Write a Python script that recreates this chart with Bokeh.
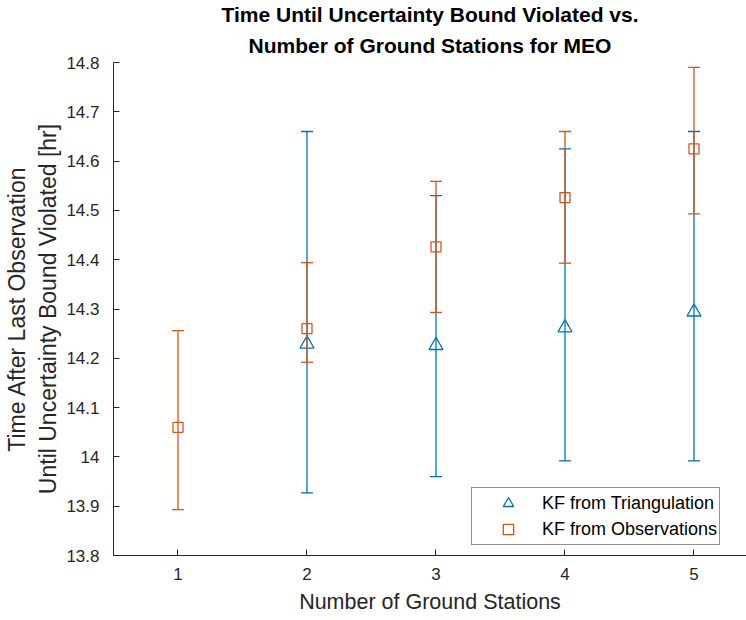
from bokeh.plotting import figure
from bokeh.models import (Range1d, FixedTicker, CustomJSTickFormatter, Title,
                          Legend, LegendItem, ColumnDataSource)
from bokeh.embed import file_html
from bokeh.resources import INLINE

# ---- data ----
tri_x = [2, 3, 4, 5]
tri_mean = [14.229, 14.226, 14.262, 14.294]
tri_lower = [13.927, 13.960, 13.992, 13.992]
tri_upper = [14.660, 14.530, 14.625, 14.660]

obs_x = [1, 2, 3, 4, 5]
obs_mean = [14.060, 14.260, 14.426, 14.526, 14.625]
obs_lower = [13.893, 14.192, 14.293, 14.393, 14.493]
obs_upper = [14.256, 14.394, 14.559, 14.660, 14.790]

x_ticks = [1, 2, 3, 4, 5]
y_ticks = [13.8, 13.9, 14.0, 14.1, 14.2, 14.3, 14.4, 14.5, 14.6, 14.7, 14.8]

title_lines = ["Time Until Uncertainty Bound Violated vs.",
               "Number of Ground Stations for MEO"]
x_label = "Number of Ground Stations"
y_label = "Time After Last Observation\nUntil Uncertainty Bound Violated [hr]"
series_names = ["KF from Triangulation", "KF from Observations"]

BLUE = "#0072BD"
ORANGE = "#D95319"
AXIS = "#262626"
FONT = "Liberation Sans"

p = figure(width=746, height=620, output_backend="svg", toolbar_location=None,
           x_range=Range1d(0.5, 5.407), y_range=Range1d(13.8, 14.8),
           min_border_left=113, min_border_right=0, min_border_top=62,
           min_border_bottom=65, title=None)
p.outline_line_color = None
p.xgrid.visible = False
p.ygrid.visible = False
p.background_fill_color = "white"
p.border_fill_color = "white"

# titles (two lines)
t2 = Title(text=title_lines[1], align="center", text_font=FONT,
           text_font_size="21px", text_font_style="bold", text_color="black",
           standoff=12)
t1 = Title(text=title_lines[0], align="center", text_font=FONT,
           text_font_size="21px", text_font_style="bold", text_color="black",
           standoff=-1)
p.add_layout(t2, "above")
p.add_layout(t1, "above")

# axes
for ax in (p.xaxis[0], p.yaxis[0]):
    ax.axis_line_color = AXIS
    ax.major_tick_line_color = AXIS
    ax.major_tick_in = 6
    ax.major_tick_out = 0
    ax.minor_tick_line_color = None
    ax.major_label_text_font = FONT
    ax.major_label_text_font_size = "17px"
    ax.major_label_text_color = AXIS
    ax.axis_label_text_font = FONT
    ax.axis_label_text_font_style = "normal"
    ax.axis_label_text_color = AXIS

p.xaxis.axis_label_text_font_size = "21.5px"
p.yaxis.axis_label_text_font_size = "23px"
p.xaxis.ticker = FixedTicker(ticks=x_ticks)
p.yaxis.ticker = FixedTicker(ticks=y_ticks)
p.yaxis.formatter = CustomJSTickFormatter(code="return Number(tick.toFixed(1)).toString();")
p.xaxis.axis_label = x_label
p.yaxis.axis_label = y_label
p.xaxis.major_label_standoff = 12
p.xaxis.axis_label_standoff = 7
p.yaxis.major_label_standoff = 14
p.yaxis.axis_label_standoff = 2

src_t = ColumnDataSource(dict(x=tri_x, m=tri_mean, lo=tri_lower, hi=tri_upper))
src_o = ColumnDataSource(dict(x=obs_x, m=obs_mean, lo=obs_lower, hi=obs_upper))

lw = 1.3
cap = 12
# triangulation series
p.segment(x0="x", y0="lo", x1="x", y1="hi", source=src_t, line_color=BLUE, line_width=lw)
p.scatter(x="x", y="lo", source=src_t, marker="dash", size=cap, line_color=BLUE, line_width=lw)
p.scatter(x="x", y="hi", source=src_t, marker="dash", size=cap, line_color=BLUE, line_width=lw)
r_t = p.scatter(x="x", y="m", source=src_t, marker="triangle", size=14,
                line_color=BLUE, fill_color=None, line_width=lw)

# observations series
p.segment(x0="x", y0="lo", x1="x", y1="hi", source=src_o, line_color=ORANGE, line_width=lw)
p.scatter(x="x", y="lo", source=src_o, marker="dash", size=cap, line_color=ORANGE, line_width=lw)
p.scatter(x="x", y="hi", source=src_o, marker="dash", size=cap, line_color=ORANGE, line_width=lw)
r_o = p.scatter(x="x", y="m", source=src_o, marker="square", size=10,
                line_color=ORANGE, fill_color=None, line_width=lw)

legend = Legend(items=[LegendItem(label=series_names[0], renderers=[r_t]),
                       LegendItem(label=series_names[1], renderers=[r_o])],
                location=(358, 10), orientation="vertical")
legend.border_line_color = AXIS
legend.border_line_width = 1
legend.background_fill_color = "white"
legend.background_fill_alpha = 1
legend.label_text_font = FONT
legend.label_text_font_size = "18px"
legend.label_text_color = "black"
legend.glyph_width = 68
legend.glyph_height = 26
legend.label_height = 20
legend.label_standoff = 0
legend.spacing = -2
legend.padding = 2
legend.margin = 0
p.add_layout(legend, "center")

open("out.html", "w").write(file_html(p, INLINE))
